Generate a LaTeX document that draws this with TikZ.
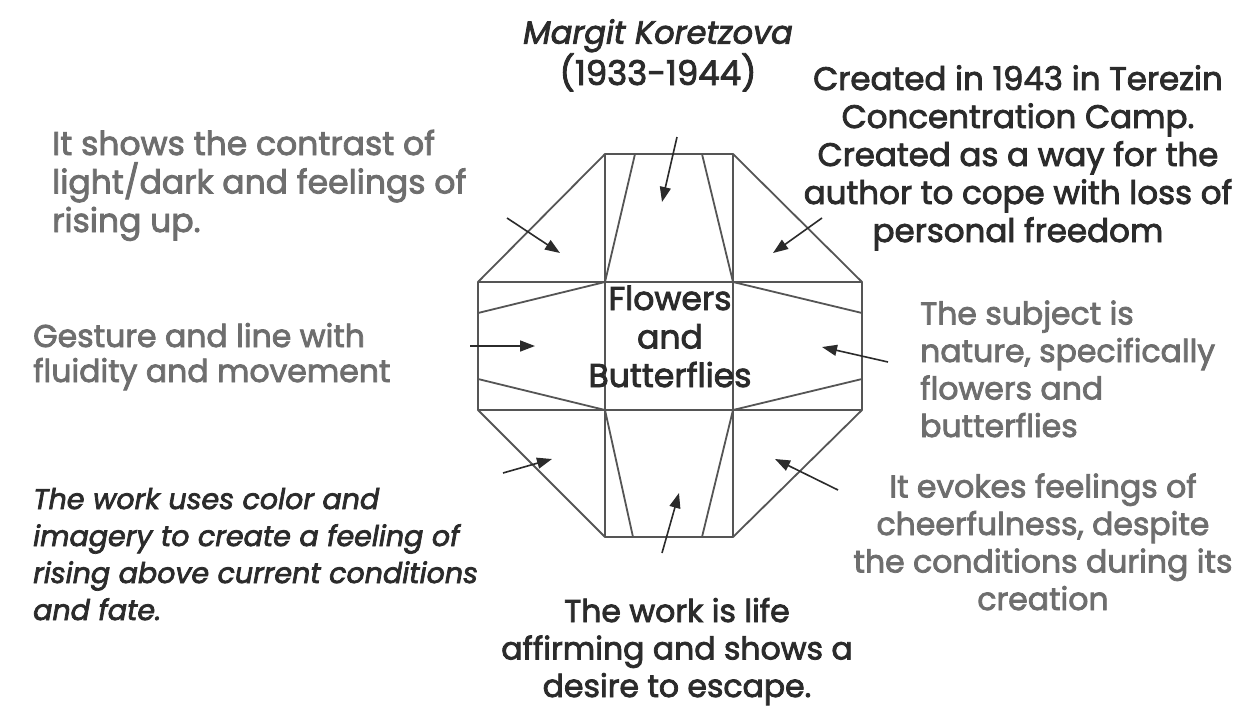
\documentclass[tikz,border=0pt]{standalone}
\usepackage{fontspec}
\setmainfont{Poppins}[FakeBold=2.5]
\usetikzlibrary{arrows.meta}
\definecolor{ink}{HTML}{2B2B2B}
\definecolor{greyink}{HTML}{6E6E6E}
\definecolor{edge}{HTML}{555555}
\begin{document}
\begin{tikzpicture}[x=1pt,y=-1pt,
  lbl/.style={inner sep=0pt, font=\fontsize{31.5}{37.5}\selectfont},
  blk/.style={lbl, text=ink},
  gry/.style={lbl, text=greyink},
  shape line/.style={draw=edge, line width=1.8pt, line join=round},
  pointer/.style={draw=ink, line width=1.6pt, -{Triangle[length=15pt,width=11pt]}}]
\useasboundingbox[fill=white] (0,0) rectangle (1247,707);
% octagon vertices
\coordinate (A) at (605,154);
\coordinate (B) at (733,154);
\coordinate (C) at (862,282);
\coordinate (D) at (862,410);
\coordinate (E) at (733,537);
\coordinate (F) at (605,537);
\coordinate (G) at (478,410);
\coordinate (H) at (478,282);
\coordinate (P1) at (605,282);
\coordinate (P2) at (733,282);
\coordinate (P3) at (733,410);
\coordinate (P4) at (605,410);
\coordinate (T1) at (635,154);
\coordinate (T2) at (702,154);
\coordinate (B1) at (633,537);
\coordinate (B2) at (702,537);
\coordinate (L1) at (478,313);
\coordinate (L2) at (478,379);
\coordinate (R1) at (862,313);
\coordinate (R2) at (862,379);
\draw[shape line] (A) -- (B) -- (C) -- (D) -- (E) -- (F) -- (G) -- (H) -- cycle;
\draw[shape line] (A) -- (F) (B) -- (E) (H) -- (C) (G) -- (D);
\draw[shape line] (T1) -- (P1) (T2) -- (P2) (P4) -- (B1) (P3) -- (B2)
  (L1) -- (P1) (L2) -- (P4) (P2) -- (R1) (P3) -- (R2);
% centre label
\node[blk, align=center, anchor=base, font=\fontsize{33}{38.5}\selectfont] (centre) at (670,387) {Flowers\\and\\Butterflies};
% labels
\node[blk, align=center, anchor=base, font=\fontsize{34}{37}\selectfont] (artist) at (658,85) {{\fontsize{32}{37}\selectfont\itshape Margit Koretzova}\\(1933-1944)};
\node[blk, align=center, anchor=base, font=\fontsize{32.5}{38}\selectfont] (created) at (1018,242) {Created in 1943 in Terezin\\Concentration Camp.\\Created as a way for the\\author to cope with loss of\\personal freedom};
\node[gry, align=left, anchor=base west, font=\fontsize{33}{38.5}\selectfont] (contrast) at (52,232) {It shows the contrast of\\light/dark and feelings of\\rising up.};
\node[gry, align=left, anchor=base west, font=\fontsize{31.5}{35}\selectfont] (gesture) at (33,382) {Gesture and line with\\fluidity and movement};
\node[blk, align=left, anchor=base west, font=\fontsize{28.5}{37}\selectfont\itshape] (colour) at (33,620) {The work uses color and\\imagery to create a feeling of\\rising above current conditions\\and fate.};
\node[gry, align=left, anchor=base west] (subject) at (920,437) {The subject is\\nature, specifically\\flowers and\\butterflies};
\node[gry, align=center, anchor=base] (evokes) at (1043,610) {It evokes feelings of\\cheerfulness, despite\\the conditions during its\\creation};
\node[blk, align=center, anchor=base] (life) at (677,697) {The work is life\\affirming and shows a\\desire to escape.};
% arrow ends
\coordinate (s1) at (677,137); \coordinate (e1) at (662,202);
\coordinate (s2) at (507,218); \coordinate (e2) at (560,253);
\coordinate (s3) at (822,218); \coordinate (e3) at (773,253);
\coordinate (s4) at (470,346); \coordinate (e4) at (535,346);
\coordinate (s5) at (888,362); \coordinate (e5) at (822,347);
\coordinate (s6) at (503,473); \coordinate (e6) at (552,459);
\coordinate (s7) at (838,490); \coordinate (e7) at (775,459);
\coordinate (s8) at (662,553); \coordinate (e8) at (679,493);
\draw[pointer] (s1) -- (e1);
\draw[pointer] (s2) -- (e2);
\draw[pointer] (s3) -- (e3);
\draw[pointer] (s4) -- (e4);
\draw[pointer] (s5) -- (e5);
\draw[pointer] (s6) -- (e6);
\draw[pointer] (s7) -- (e7);
\draw[pointer] (s8) -- (e8);
\end{tikzpicture}
\end{document}
